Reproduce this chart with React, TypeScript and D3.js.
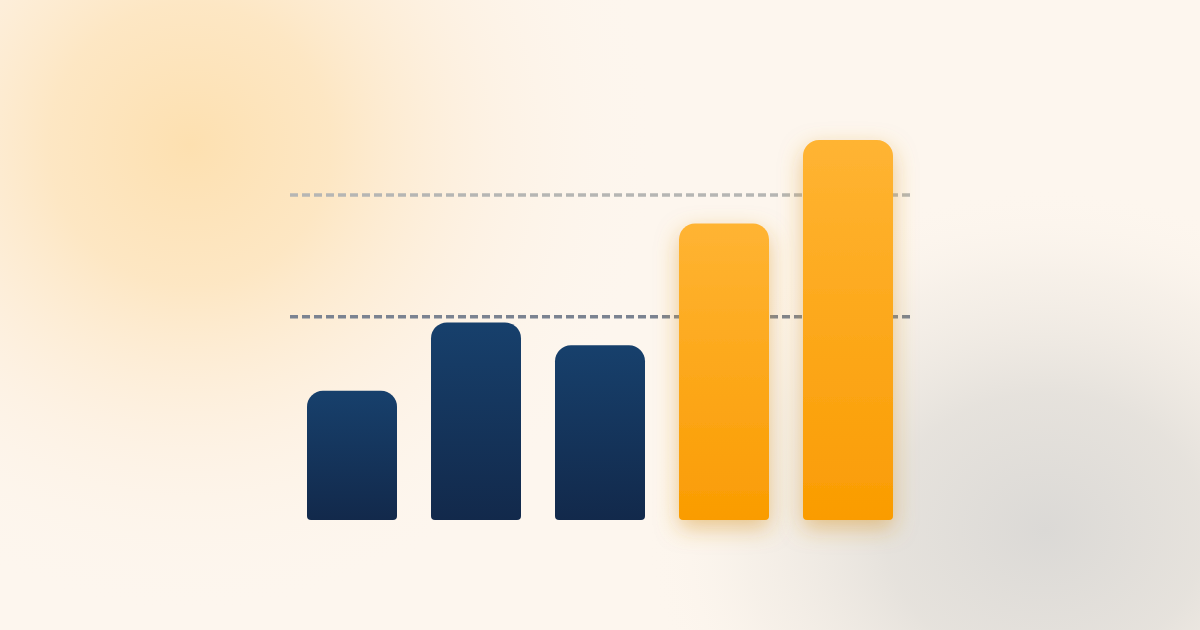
import * as d3 from "d3";

const width = 1200;
const height = 630;

const categories = ["A", "B", "C", "D", "E"];
const values = [34, 52, 46, 78, 100];
const highlighted = [false, false, false, true, true];
const referenceLines = [85.5, 53.5];
const referenceColors = ["#b6b6b4", "#7b8391"];

const plot = { left: 307, right: 893, top: 140, bottom: 520 };

function barPath(x: number, y: number, w: number, h: number, rt: number, rb: number) {
  const p = d3.path();
  p.moveTo(x, y + rt);
  p.arcTo(x, y, x + rt, y, rt);
  p.lineTo(x + w - rt, y);
  p.arcTo(x + w, y, x + w, y + rt, rt);
  p.lineTo(x + w, y + h - rb);
  p.arcTo(x + w, y + h, x + w - rb, y + h, rb);
  p.lineTo(x + rb, y + h);
  p.arcTo(x, y + h, x, y + h - rb, rb);
  p.closePath();
  return p.toString();
}

export default function App() {
  const x = d3
    .scaleBand<string>()
    .domain(categories)
    .range([plot.left, plot.right])
    .paddingInner(34 / 124)
    .paddingOuter(0);

  const y = d3.scaleLinear().domain([0, 100]).range([plot.bottom, plot.top]);

  return (
    <svg
      width={width}
      height={height}
      viewBox={`0 0 ${width} ${height}`}
      style={{ position: "fixed", left: 0, top: 0, display: "block" }}
    >
      <defs>
        <radialGradient id="glow-orange" cx={190} cy={145} r={470} gradientUnits="userSpaceOnUse">
          <stop offset="0" stopColor="#fde0b0" stopOpacity={1} />
          <stop offset="0.3" stopColor="#fde4bc" stopOpacity={0.85} />
          <stop offset="0.65" stopColor="#fdecd6" stopOpacity={0.4} />
          <stop offset="1" stopColor="#fdf6ee" stopOpacity={0} />
        </radialGradient>
        <radialGradient
          id="glow-grey"
          cx={1045}
          cy={530}
          r={380}
          gradientUnits="userSpaceOnUse"
          gradientTransform="translate(1045 530) scale(1.05 0.9) translate(-1045 -530)"
        >
          <stop offset="0" stopColor="#dbd9d6" stopOpacity={1} />
          <stop offset="0.4" stopColor="#e0ddd8" stopOpacity={0.8} />
          <stop offset="0.75" stopColor="#ebe6df" stopOpacity={0.35} />
          <stop offset="1" stopColor="#fdf6ee" stopOpacity={0} />
        </radialGradient>
        <linearGradient id="bar-navy" x1="0" y1="0" x2="0" y2="1">
          <stop offset="0" stopColor="#17406c" />
          <stop offset="1" stopColor="#12294b" />
        </linearGradient>
        <linearGradient id="bar-orange" x1="0" y1="0" x2="0" y2="1">
          <stop offset="0" stopColor="#ffb433" />
          <stop offset="1" stopColor="#fa9c02" />
        </linearGradient>
        <filter id="orange-shadow" x="-50%" y="-20%" width="200%" height="140%">
          <feDropShadow dx="0" dy="8" stdDeviation="11" floodColor="#d8972a" floodOpacity="0.5" />
        </filter>
      </defs>

      <rect width={width} height={height} fill="#fdf6ee" />
      <rect width={width} height={height} fill="url(#glow-orange)" />
      <rect width={width} height={height} fill="url(#glow-grey)" />

      <g className="reference-lines">
        {referenceLines.map((v, i) => (
          <line
            key={i}
            x1={290}
            x2={910}
            y1={y(v)}
            y2={y(v)}
            stroke={referenceColors[i]}
            strokeWidth={3.5}
            strokeDasharray="8 4"
          />
        ))}
      </g>

      <g className="bars">
        {categories.map((c, i) => {
          const bx = x(c) ?? 0;
          const by = y(values[i]);
          const h = y(0) - by;
          return (
            <path
              key={c}
              d={barPath(bx, by, x.bandwidth(), h, 16, 4)}
              fill={highlighted[i] ? "url(#bar-orange)" : "url(#bar-navy)"}
              filter={highlighted[i] ? "url(#orange-shadow)" : undefined}
            />
          );
        })}
      </g>
    </svg>
  );
}
